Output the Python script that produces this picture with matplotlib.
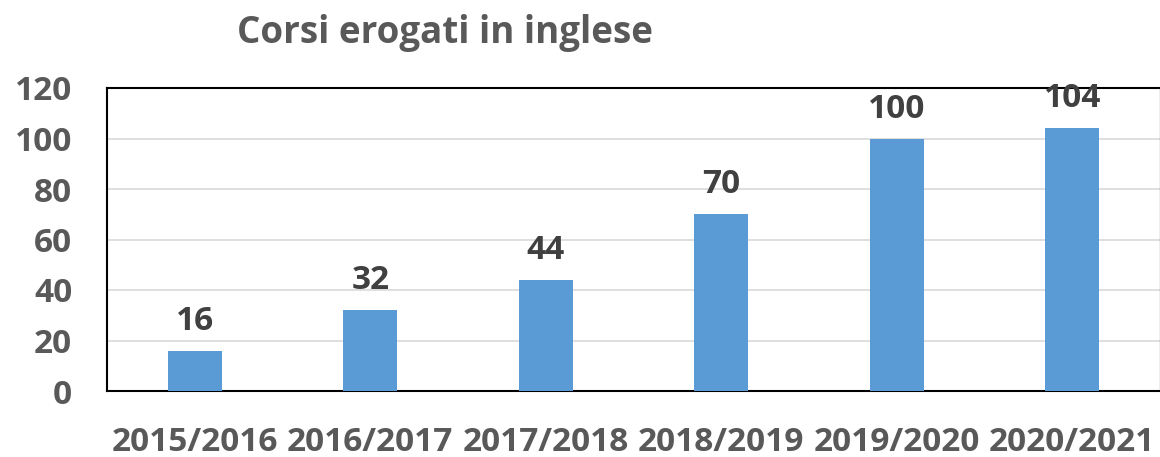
import matplotlib.pyplot as plt

years = ["2015/2016", "2016/2017", "2017/2018", "2018/2019", "2019/2020", "2020/2021"]
courses = [16, 32, 44, 70, 100, 104]

plt.rcParams['font.family'] = ['Open Sans', 'DejaVu Sans']

fig = plt.figure(figsize=(11.6, 4.57), dpi=100)
ax = fig.add_axes([107 / 1160, 1 - 391 / 457, (1160 - 107) / 1160, (391 - 88) / 457])

x = range(len(years))
ax.bar(x, courses, width=0.31, color="#5b9bd5", zorder=3)
for i, v in enumerate(courses):
    ax.text(i, v + 8.3, str(v), ha="center", va="baseline", fontsize=24,
            fontweight="bold", color="#404040", zorder=4)

ax.set_xlim(-0.5, len(years) - 0.5)
ax.set_ylim(0, 120)
ax.set_yticks(range(0, 121, 20))
ax.set_xticks(list(x))
ax.set_xticklabels(years)
ax.grid(axis="y", color="#d9d9d9", linewidth=1.2, zorder=0)
ax.tick_params(axis="both", length=0, labelsize=24, labelcolor="#595959")
ax.tick_params(axis="x", pad=25)
ax.tick_params(axis="y", pad=25)
for lab in ax.get_xticklabels() + ax.get_yticklabels():
    lab.set_fontweight("bold")

for s in ["left", "top", "bottom"]:
    ax.spines[s].set_color("black")
    ax.spines[s].set_linewidth(1.5)
ax.spines["right"].set_color("#a6a6a6")
ax.spines["right"].set_linewidth(1)

fig.text(445 / 1160, 1 - 43 / 457, "Corsi erogati in inglese", ha="center", va="baseline",
         fontsize=26.5, fontweight="bold", color="#595959")

fig.savefig("out.png", dpi=100)
